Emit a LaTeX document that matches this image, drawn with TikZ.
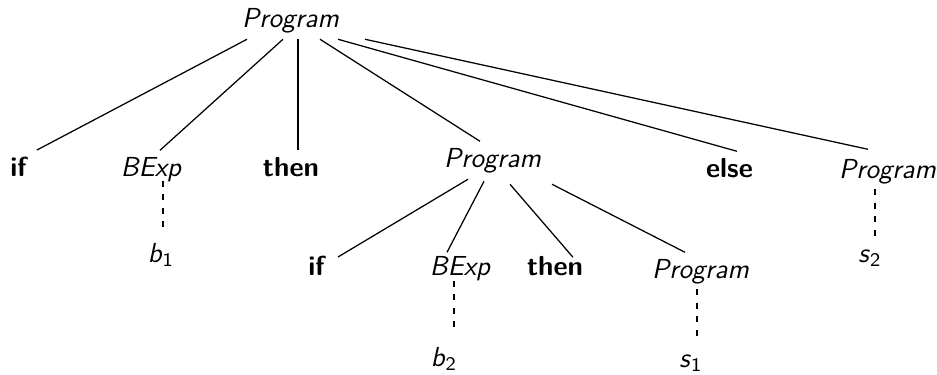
\documentclass[tikz,border=0pt]{standalone}
\usetikzlibrary{calc}

\tikzset{
  every node/.style={anchor=base, inner sep=2.4pt, font=\fontsize{11}{13}\selectfont\sffamily},
  nt/.style={font=\fontsize{11}{13}\selectfont\sffamily\itshape},
  kw/.style={font=\fontsize{11}{13}\selectfont\sffamily\bfseries},
  leaf/.style={dashed, dash pattern=on 2.4pt off 3pt}
}
\newcommand{\sym}[2]{\textit{#1}\textsubscript{#2}}

\begin{document}
\begin{tikzpicture}[x=0.4pt, y=-0.4pt, line width=0.5pt]
\useasboundingbox (0,0) rectangle (937,374);

\node[nt] (root) at (290.5,27) {Program};

\node[kw] (if1) at (18.5,176) {if};
\node[nt] (bexp1) at (151,176) {BExp};
\node[kw] (then1) at (291,176) {then};
\node[nt] (prog1) at (492.5,167) {Program};
\node[kw] (else) at (729.5,177) {else};
\node[nt] (prog2) at (887.5,178) {Program};

\node[kw] (if2) at (316.5,275) {if};
\node[nt] (bexp2) at (460,275) {BExp};
\node[kw] (then2) at (555,275) {then};
\node[nt] (prog3) at (700.5,278) {Program};

\node (b1) at (161,262) {\sym{b}{1}};
\node (b2) at (444,366) {\sym{b}{2}};
\node (s1) at (691,367) {\sym{s}{1}};
\node (s2) at (870,262) {\sym{s}{2}};

% top level
\draw ($(root.south)+(-43.5,0)$) -- ($(if1.north)+(18.5,0)$);
\draw ($(root.south)+(-7.5,0)$) -- ($(bexp1.north)+(9,0)$);
\draw ($(root.south)+(7.5,0)$) -- ($(then1.north)+(7,0)$);
\draw ($(root.south)+(29.5,0)$) -- ($(prog1.north)+(-12.5,0)$);
\draw ($(root.south)+(47.5,0)$) -- ($(else.north)+(7.5,0)$);
\draw ($(root.south)+(74.5,0)$) -- ($(prog2.north)+(-19.5,-3)$);

% nested program
\draw ($(prog1.south)+(-24.5,0)$) -- ($(if2.north)+(21.5,8)$);
\draw ($(prog1.south)+(-8.5,2)$) -- ($(bexp2.north)+(-13,3)$);
\draw ($(prog1.south)+(17.5,5)$) -- ($(then2.north)+(18,8)$);
\draw ($(prog1.south)+(59.5,5)$) -- ($(prog3.north)+(-15.5,0)$);

% leaves
\draw[leaf] ($(bexp1.south)+(12,-7)$) -- ($(b1.north)+(2,-9)$);
\draw[leaf] ($(bexp2.south)+(-6,-6)$) -- ($(b2.north)+(10,-9)$);
\draw[leaf] ($(prog3.south)+(-3.5,-1)$) -- ($(s1.north)+(6,-9)$);
\draw[leaf] ($(prog2.south)+(-12.5,-1)$) -- ($(s2.north)+(5,-6)$);
\end{tikzpicture}
\end{document}
